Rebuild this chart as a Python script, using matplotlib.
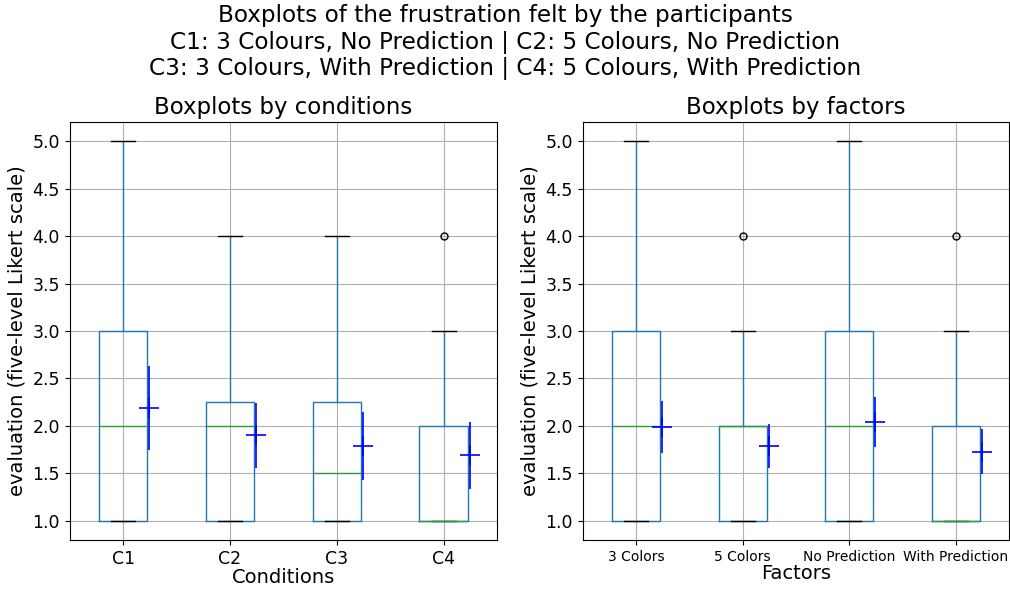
import matplotlib
matplotlib.use("Agg")
import matplotlib.pyplot as plt
import numpy as np

# Left panel: conditions
conditions = ["C1", "C2", "C3", "C4"]
cond_q1 = [1.0, 1.0, 1.0, 1.0]
cond_med = [2.0, 2.0, 1.5, 1.0]
cond_q3 = [3.0, 2.25, 2.25, 2.0]
cond_whislo = [1.0, 1.0, 1.0, 1.0]
cond_whishi = [5.0, 4.0, 4.0, 3.0]
cond_fliers = [[], [], [], [4.0]]
cond_mean = [2.19, 1.90, 1.79, 1.69]
cond_err = [0.44, 0.34, 0.36, 0.35]

# Right panel: factors
factors = ["3 Colors", "5 Colors", "No Prediction", "With Prediction"]
fac_q1 = [1.0, 1.0, 1.0, 1.0]
fac_med = [2.0, 2.0, 2.0, 1.0]
fac_q3 = [3.0, 2.0, 3.0, 2.0]
fac_whislo = [1.0, 1.0, 1.0, 1.0]
fac_whishi = [5.0, 3.0, 5.0, 3.0]
fac_fliers = [[], [4.0], [], [4.0]]
fac_mean = [1.99, 1.79, 2.04, 1.73]
fac_err = [0.27, 0.235, 0.265, 0.24]


def draw_panel(ax, labels, q1, med, q3, lo, hi, fliers, mean, err):
    stats = []
    for i in range(len(labels)):
        stats.append({"label": labels[i], "q1": q1[i], "med": med[i], "q3": q3[i],
                      "whislo": lo[i], "whishi": hi[i], "fliers": fliers[i]})
    pos = np.arange(1, len(labels) + 1)
    ax.bxp(stats, positions=pos, widths=0.45,
           boxprops=dict(color="#1f77b4"),
           whiskerprops=dict(color="#1f77b4"),
           medianprops=dict(color="#2ca02c"),
           capprops=dict(color="k"),
           flierprops=dict(marker="o", markeredgecolor="k", markerfacecolor="none", markersize=5))
    # mean +/- error, shifted to the right of each box
    ax.errorbar(pos + 0.245, mean, yerr=err, fmt="+", color="blue",
                markersize=15, markeredgewidth=1.2, elinewidth=1.2)
    ax.set_xticks(pos)
    ax.set_xlim(0.5, len(labels) + 0.5)
    ax.set_ylim(0.8, 5.2)
    ax.set_yticks(np.arange(1.0, 5.01, 0.5))
    ax.set_yticklabels([f"{v:.1f}" for v in np.arange(1.0, 5.01, 0.5)])
    ax.grid(True)
    ax.tick_params(axis="y", labelsize=12.5)
    ax.set_ylabel("evaluation (five-level Likert scale)", fontsize=14)


fig = plt.figure(figsize=(10.1, 5.9), dpi=100)
ax1 = fig.add_axes([0.069, 0.085, 0.423, 0.708])
ax2 = fig.add_axes([0.577, 0.085, 0.422, 0.708])

draw_panel(ax1, conditions, cond_q1, cond_med, cond_q3, cond_whislo, cond_whishi,
           cond_fliers, cond_mean, cond_err)
ax1.set_xticklabels(conditions, fontsize=12.5)
ax1.set_xlabel("Conditions", fontsize=14, labelpad=0.5)
ax1.set_title("Boxplots by conditions", fontsize=16.5)

draw_panel(ax2, factors, fac_q1, fac_med, fac_q3, fac_whislo, fac_whishi,
           fac_fliers, fac_mean, fac_err)
ax2.set_xticklabels(factors, fontsize=10)
ax2.set_xlabel("Factors", fontsize=14, labelpad=0)
ax2.set_title("Boxplots by factors", fontsize=16.5)

fig.suptitle("Boxplots of the frustration felt by the participants\n"
             "C1: 3 Colours, No Prediction | C2: 5 Colours, No Prediction\n"
             "C3: 3 Colours, With Prediction | C4: 5 Colours, With Prediction",
             fontsize=16.7, y=0.993)

fig.savefig("out.png", dpi=100)
